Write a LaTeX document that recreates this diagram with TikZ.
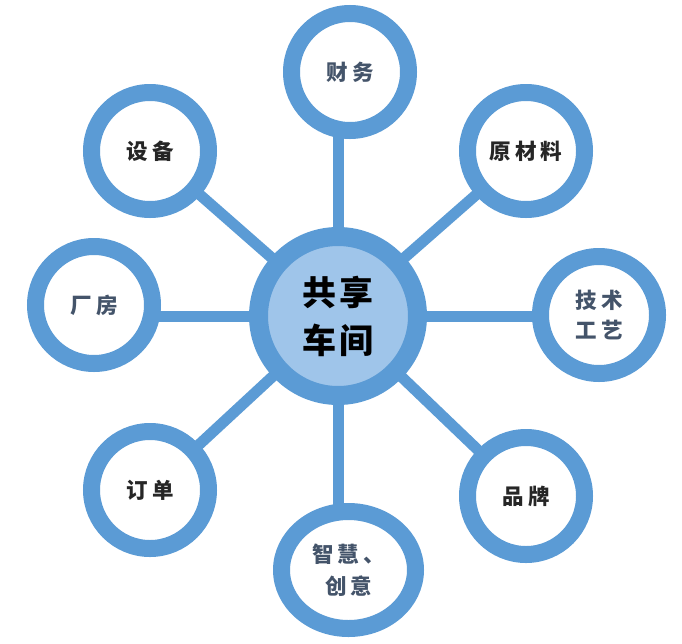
\documentclass[tikz,border=0pt]{standalone}
\usepackage{fontspec}
\setmainfont{Noto Sans CJK SC}
\usetikzlibrary{shapes.geometric,backgrounds}
\definecolor{ringblue}{HTML}{5B9BD5}
\definecolor{coreblue}{HTML}{9FC5EA}
\definecolor{slate}{HTML}{44546A}
\definecolor{ink}{HTML}{262626}
\newcommand{\gp}{\hspace{4pt}}
\begin{document}
\begin{tikzpicture}[x=1pt,y=-1pt,
  ring/.style={circle,draw=ringblue,line width=17pt,fill=white,minimum size=117pt,inner sep=0pt,
    font=\bfseries\fontsize{21.5}{30}\selectfont,align=center},
  core/.style={circle,draw=ringblue,line width=19pt,fill=coreblue,minimum size=159pt,inner sep=0pt,
    font=\bfseries\fontsize{34}{48}\selectfont,align=center,text=black},
  link/.style={draw=ringblue,line width=11pt}]
\useasboundingbox (0,0) rectangle (682,643);
\node[core] (c) at (338,316) {共\gp 享\\车\gp 间};
\node[ring,text=slate] (cw) at (350,72) {财\gp 务};
\node[ring,text=ink] (ycl) at (526,151) {原\gp 材\gp 料};
\node[ring,text=slate] (jsgy) at (599,315) {技\gp 术\\工\gp 艺};
\node[ring,text=ink] (pp) at (526,496) {品\gp 牌};
\node[ring,ellipse,minimum width=134pt,minimum height=117pt,text=slate,font=\bfseries\fontsize{21.5}{32}\selectfont] (zh) at (348.5,570) {智\gp 慧\gp 、\\创\gp 意};
\node[ring,text=ink] (dd) at (150,490) {订\gp 单};
\node[ring,text=slate] (cf) at (94,305) {厂\gp 房};
\node[ring,text=ink] (sb) at (150,151) {设\gp 备};
\begin{pgfonlayer}{background}
\draw[link] (c.center) -- (c.center |- cw.center);
\draw[link] (c.center) -- (c.center |- zh.center);
\draw[link] (c.center) -- (c.center -| jsgy.center);
\draw[link] (c.center) -- (c.center -| cf.center);
\draw[link] (c.center) -- (ycl.center);
\draw[link] (c.center) -- (pp.center);
\draw[link] (c.center) -- (dd.center);
\draw[link] (c.center) -- (sb.center);
\end{pgfonlayer}
\end{tikzpicture}
\end{document}
